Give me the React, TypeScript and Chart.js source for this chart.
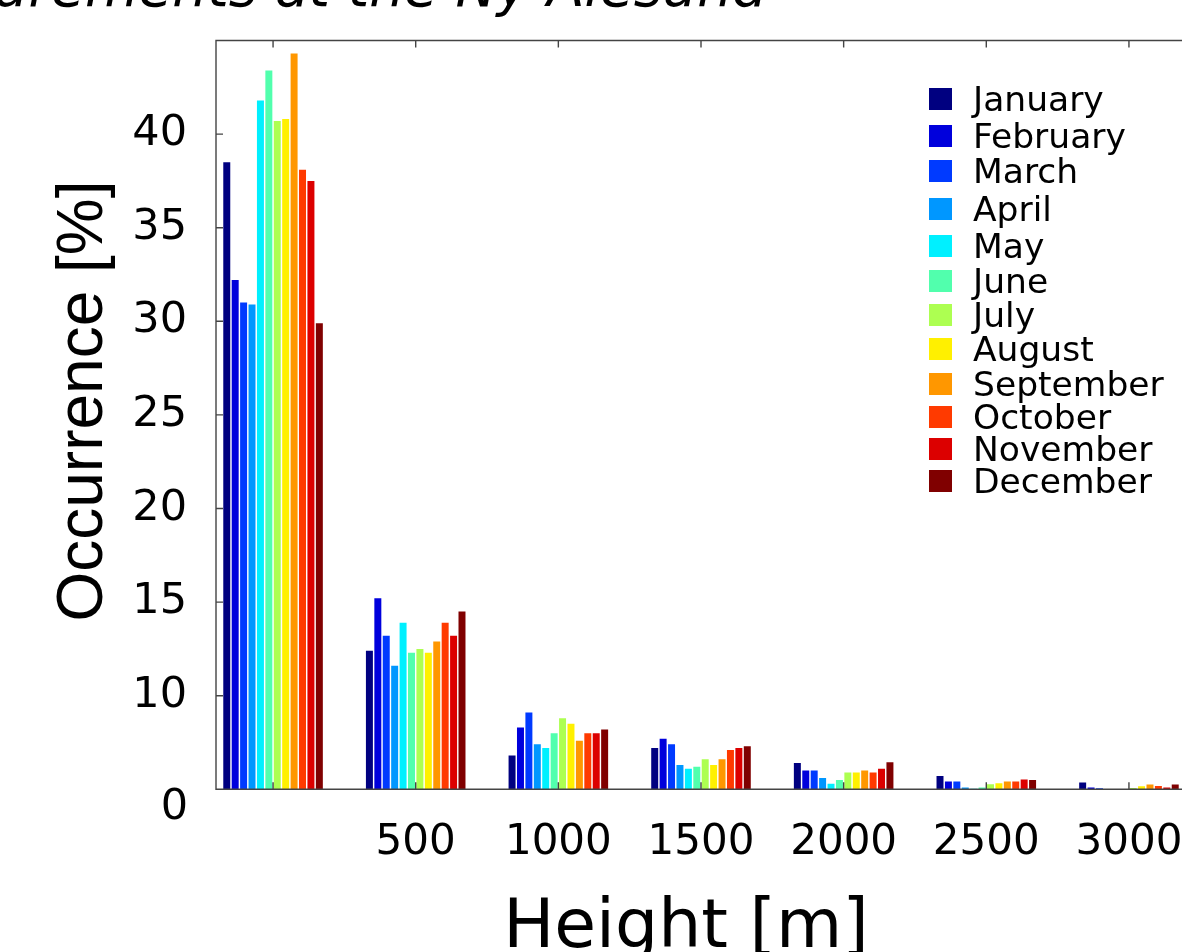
import React, { useEffect, useRef } from 'react';
import { Chart, registerables } from 'chart.js';

Chart.register(...registerables);

// ---- data ----
const heights = [0, 500, 1000, 1500, 2000, 2500, 3000];
const xTickLabels = ['', '500', '1000', '1500', '2000', '2500', '3000'];
const yTickValues = [5, 10, 15, 20, 25, 30, 35, 40];
const yTickLabels = ['0', '10', '15', '20', '25', '30', '35', '40'];

const months = [
  'January', 'February', 'March', 'April', 'May', 'June',
  'July', 'August', 'September', 'October', 'November', 'December',
];
const monthColors = [
  '#000080', '#0000dc', '#003aff', '#0097ff', '#00f0ff', '#51ffad',
  '#adff51', '#fff000', '#ff9700', '#ff3a00', '#dc0000', '#800000',
];

const january = [38.5, 12.4, 6.8, 7.2, 6.4, 5.71, 5.36];
const february = [32.2, 15.2, 8.3, 7.7, 6.0, 5.41, 5.09];
const march = [31.0, 13.2, 9.1, 7.4, 6.0, 5.41, 5.05];
const april = [30.9, 11.6, 7.4, 6.3, 5.6, 5.09, 5.02];
const may = [41.8, 13.9, 7.2, 6.1, 5.3, 5.03, 5.02];
const june = [43.4, 12.3, 8.0, 6.2, 5.5, 5.09, 5.02];
const july = [40.7, 12.5, 8.8, 6.6, 5.9, 5.27, 5.07];
const august = [40.8, 12.3, 8.5, 6.3, 5.9, 5.32, 5.16];
const september = [44.3, 12.9, 7.6, 6.6, 6.0, 5.41, 5.25];
const october = [38.1, 13.9, 8.0, 7.1, 5.9, 5.41, 5.18];
const november = [37.5, 13.2, 8.0, 7.2, 6.1, 5.53, 5.09];
const december = [29.9, 14.5, 8.2, 7.3, 6.45, 5.5, 5.25];

const monthValues = [
  january, february, march, april, may, june,
  july, august, september, october, november, december,
];

const titleText = 'Cloud base height measurements at the Ny-Ålesund';
const xTitle = 'Height [m]';
const yTitle = 'Occurrence [%]';

// ---- layout constants ----
const CANVAS_W = 1230;
const CANVAS_H = 952;
const legendRows = [99, 136, 171, 209, 246, 281, 315, 349, 384, 417, 449, 481];

const decorPlugin = {
  id: 'decor',
  afterDatasetsDraw(chart: any) {
    const { ctx, chartArea: a, scales } = chart;
    const xs = scales.x;
    const ys = scales.y;
    ctx.save();
    ctx.strokeStyle = '#444';
    ctx.lineWidth = 1.4;
    ctx.beginPath();
    ctx.moveTo(a.left, a.top);
    ctx.lineTo(a.right, a.top);
    ctx.lineTo(a.right, a.bottom);
    ctx.lineTo(a.left, a.bottom);
    ctx.closePath();
    heights.forEach((h) => {
      const px = xs.getPixelForValue(h);
      ctx.moveTo(px, a.bottom);
      ctx.lineTo(px, a.bottom - 7);
      ctx.moveTo(px, a.top);
      ctx.lineTo(px, a.top + 7);
    });
    yTickValues.forEach((v) => {
      const py = ys.getPixelForValue(v);
      ctx.moveTo(a.left, py);
      ctx.lineTo(a.left + 7, py);
    });
    ctx.stroke();
    ctx.restore();
  },
  afterDraw(chart: any) {
    const { ctx, scales } = chart;
    const ys = scales.y;
    ctx.save();
    ctx.fillStyle = '#000';

    // title (cut at top)
    ctx.font = 'italic 55px "DejaVu Sans"';
    ctx.textAlign = 'right';
    ctx.textBaseline = 'alphabetic';
    ctx.fillText(titleText, 767, 6);

    // bottom y tick label "0"
    ctx.font = '43px "DejaVu Sans"';
    ctx.textAlign = 'right';
    ctx.textBaseline = 'middle';
    ctx.fillText(yTickLabels[0], 188, ys.getPixelForValue(yTickValues[0]) + 19);

    // x axis title
    ctx.font = '68px "DejaVu Sans"';
    ctx.textAlign = 'center';
    ctx.textBaseline = 'alphabetic';
    ctx.fillText(xTitle, 686, 947);

    // y axis title
    ctx.save();
    ctx.translate(84, 401);
    ctx.rotate(-Math.PI / 2);
    ctx.font = '64px "Liberation Sans"';
    ctx.textAlign = 'center';
    ctx.textBaseline = 'middle';
    ctx.fillText(yTitle, 0, 0);
    ctx.restore();

    // legend
    ctx.font = '34.5px "DejaVu Sans"';
    ctx.textAlign = 'left';
    ctx.textBaseline = 'alphabetic';
    chart.data.datasets.forEach((ds: any, i: number) => {
      const cy = legendRows[i];
      ctx.fillStyle = ds.backgroundColor;
      ctx.fillRect(929, cy - 11, 23, 22);
      ctx.fillStyle = '#000';
      ctx.fillText(ds.label, 973, cy + 12);
    });
    ctx.restore();
  },
};

export default function App() {
  const ref = useRef<HTMLCanvasElement | null>(null);

  useEffect(() => {
    if (!ref.current) return;
    const datasets = months.map((m, i) => ({
      label: m,
      data: heights.map((h, j) => ({ x: h, y: monthValues[i][j] })),
      backgroundColor: monthColors[i],
      borderWidth: 0,
      categoryPercentage: 0.708,
      barPercentage: 0.83,
    }));
    const chart = new Chart(ref.current, {
      type: 'bar',
      data: { datasets },
      plugins: [decorPlugin],
      options: {
        responsive: false,
        animation: false,
        devicePixelRatio: 1,
        layout: { padding: { left: 0, right: CANVAS_W - 1186, top: 40.5, bottom: 0 } },
        plugins: {
          legend: { display: false },
          title: { display: false },
          tooltip: { enabled: false },
        },
        scales: {
          x: {
            type: 'linear',
            offset: false,
            min: -200,
            max: 3200,
            grid: { display: false, drawTicks: false, offset: false },
            border: { display: false },
            afterBuildTicks: (scale: any) => {
              scale.ticks = heights.map((v) => ({ value: v }));
            },
            afterFit: (scale: any) => {
              scale.height = CANVAS_H - 789.3;
              scale.paddingLeft = 0;
              scale.paddingRight = 0;
            },
            ticks: {
              autoSkip: false,
              maxRotation: 0,
              padding: 29,
              color: '#000',
              font: { family: 'DejaVu Sans', size: 42 },
              callback: (_v: any, i: number) => xTickLabels[i],
            },
          },
          y: {
            type: 'linear',
            min: 5,
            max: 45,
            grid: { display: false, drawTicks: false },
            border: { display: false },
            afterBuildTicks: (scale: any) => {
              scale.ticks = yTickValues.map((v) => ({ value: v }));
            },
            afterFit: (scale: any) => {
              scale.width = 216;
              scale.paddingTop = 0;
              scale.paddingBottom = 0;
            },
            ticks: {
              padding: 29,
              color: '#000',
              font: { family: 'DejaVu Sans', size: 43 },
              callback: (_v: any, i: number) => (i === 0 ? '' : yTickLabels[i]),
            },
          },
        },
      } as any,
    });
    return () => chart.destroy();
  }, []);

  return (
    <div
      style={{
        position: 'absolute',
        left: 0,
        top: 0,
        width: 1182,
        height: 952,
        overflow: 'hidden',
        background: '#fff',
      }}
    >
      <canvas ref={ref} width={CANVAS_W} height={CANVAS_H} style={{ display: 'block' }} />
    </div>
  );
}
